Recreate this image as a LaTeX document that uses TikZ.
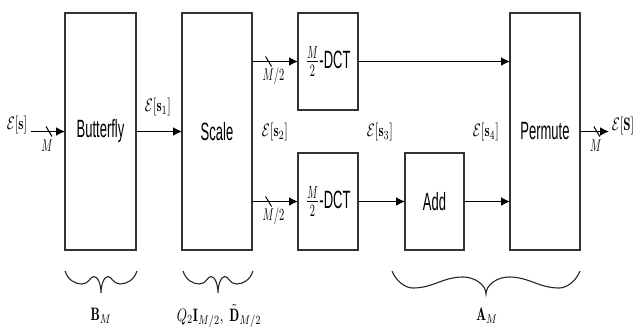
\documentclass[tikz,border=0pt]{standalone}
\usepackage{fontspec}
\usepackage{graphicx}
\usepackage{amsmath}
\newfontfamily\hv{Liberation Sans}
\usetikzlibrary{arrows.meta,calc}
\newcommand\SL[1]{\scalebox{1.3}[2.5]{\hv #1}}
\newcommand\ML[1]{\scalebox{1.3}[1.8]{$#1$}}
\newcommand\SM[1]{\scalebox{1.05}[1.7]{$#1$}}
\tikzset{
  box/.style={draw=black!80, line width=1.3pt, inner sep=0pt, outer sep=0pt, fill=white},
  conn/.style={line width=1.6pt, -{Latex[length=9pt,width=9pt]}},
  lbl/.style={inner sep=0pt, outer sep=0pt},
  bracestyle/.style={line width=1.1pt, black!85},
  slashmark/.pic={\draw[arrows=-, line width=1pt] (-3,-5) -- (3,5);},
  smallbrace/.pic={\draw[bracestyle, arrows=-] (0,0) .. controls (3,9) and (10,13) .. (17,13)
     .. controls (24,13) and (25,5.5) .. (29,5.5)
     .. controls (33,5.5) and (36,14) .. (36,22)
     .. controls (36,14) and (39,5.5) .. (43,5.5)
     .. controls (47,5.5) and (48,13) .. (55,13)
     .. controls (62,13) and (69,9) .. (72,0);},
  bigbrace/.pic={\draw[bracestyle, arrows=-] (0,0) .. controls (4,10) and (13,17) .. (21,17)
     .. controls (41,17) and (51,6) .. (71,6)
     .. controls (83,6) and (94,14) .. (94,23)
     .. controls (94,14) and (105,6) .. (117,6)
     .. controls (137,6) and (147,17) .. (167,17)
     .. controls (175,17) and (184,10) .. (188,0);}
}
\begin{document}
\begin{tikzpicture}[x=1pt,y=-1pt]
\useasboundingbox (0,0) rectangle (638,327);
% blocks
\node[box, minimum width=71pt, minimum height=237pt] (B) at (100.5,131.5) {\SL{Butterfly}};
\node[box, minimum width=70pt, minimum height=237pt] (S) at (217,131.5) {\SL{Scale}};
\node[box, minimum width=60pt, minimum height=97pt] (D1) at (328,61.5) {\scalebox{1.3}[2.5]{$\frac{M}{2}$\hv -DCT}};
\node[box, minimum width=60pt, minimum height=97pt] (D2) at (328,201.5) {\scalebox{1.3}[2.5]{$\frac{M}{2}$\hv -DCT}};
\node[box, minimum width=59pt, minimum height=97pt] (A) at (434.5,201.5) {\SL{Add}};
\node[box, minimum width=70pt, minimum height=237pt] (P) at (545,131.5) {\SL{Permute}};
\coordinate (in) at (31,131.5);
\coordinate (out) at (609,131.5);
% connectors
\draw[conn] (in) -- pic[pos=0.53]{slashmark} node[pos=0.53, below=8pt, xshift=-2pt, lbl]{\SM{M}} (B.west);
\draw[conn] (B.east) -- (S.west);
\draw[conn] (S.east |- D1.west) -- pic[pos=0.36]{slashmark} node[pos=0.36, below=6pt, xshift=5pt, lbl]{\SM{M/2}} (D1.west);
\draw[conn] (S.east |- D2.west) -- pic[pos=0.36]{slashmark} node[pos=0.36, below=6pt, xshift=5pt, lbl]{\SM{M/2}} (D2.west);
\draw[conn] (D1.east) -- (P.west |- D1.east);
\draw[conn] (D2.east) -- (A.west);
\draw[conn] (A.east) -- (P.west |- A.east);
\draw[conn] (P.east) -- pic[pos=0.58]{slashmark} node[pos=0.58, below=8pt, xshift=-1pt, lbl]{\SM{M}} (out);
% signal labels
\node[lbl] (ls) at (17,125) {\ML{\mathcal{E}[\mathbf{s}]}};
\node[lbl] (ls1) at (158,107) {\ML{\mathcal{E}[\mathbf{s}_1]}};
\node[lbl] (ls2) at (275,132) {\ML{\mathcal{E}[\mathbf{s}_2]}};
\node[lbl] (ls3) at (380,132) {\ML{\mathcal{E}[\mathbf{s}_3]}};
\node[lbl] (ls4) at (486,132) {\ML{\mathcal{E}[\mathbf{s}_4]}};
\node[lbl] (lS) at (623,126) {\ML{\mathcal{E}[\mathbf{S}]}};
% braces
\pic at (65,271) {smallbrace};
\pic[xscale=0.972] at (183,271) {smallbrace};
\pic at (392,271) {bigbrace};
\node[lbl] (lb) at (101,316) {\ML{\mathbf{B}_M}};
\node[lbl] (lq) at (219,316) {\ML{Q_2\mathbf{I}_{M/2},\;\tilde{\mathbf{D}}_{M/2}}};
\node[lbl] (la) at (487,316) {\ML{\mathbf{A}_M}};
\end{tikzpicture}
\end{document}
